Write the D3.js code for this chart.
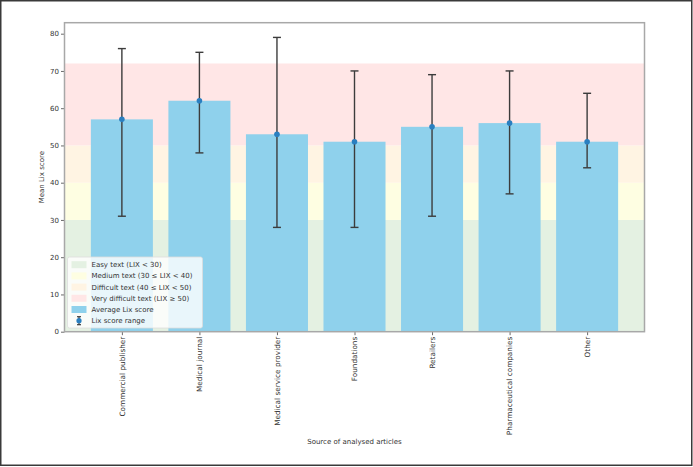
<!DOCTYPE html>
<html>
<head>
<meta charset="utf-8">
<script src="https://cdn.jsdelivr.net/npm/d3@7"></script>
<style>
  body { margin: 0; background: #fff; }
  svg { display: block; font-family: "DejaVu Sans", sans-serif; }
</style>
</head>
<body>
<script>
// data
var categories = ["Commercial publisher", "Medical journal", "Medical service provider",
    "Foundations", "Retailers", "Pharmaceutical companies", "Other"];
var meanLix = [57, 62, 53, 51, 55, 56, 51];
var minLix = [31, 48, 28, 28, 31, 37, 44];
var maxLix = [76, 75, 79, 70, 69, 70, 64];
var yTicks = [0, 10, 20, 30, 40, 50, 60, 70, 80];

// readability bands (from, to, label, colour)
var bandFrom = [0, 30, 40, 50];
var bandTo = [30, 40, 50, 72];
var bandLabels = ["Easy text (LIX < 30)", "Medium text (30 \u2264 LIX < 40)",
    "Difficult text (40 \u2264 LIX < 50)", "Very difficult text (LIX \u2265 50)"];
var bandColors = ["#e4f1e2", "#fefee2", "#fff4e3", "#ffe6e6"];

var width = 693, height = 467;
var plotLeft = 64.5, plotRight = 644.5, plotTop = 22.7, plotBottom = 331.7;

var svg = d3.select("body").append("svg")
    .attr("width", width)
    .attr("height", height);

svg.append("rect")
    .attr("x", 0.75).attr("y", 0.75)
    .attr("width", width - 2).attr("height", height - 2.5)
    .attr("fill", "#fff")
    .attr("stroke", "#3a3a3a")
    .attr("stroke-width", 1.5);

var x = d3.scaleLinear()
    .domain([-0.74, categories.length - 1 + 0.74])
    .range([plotLeft, plotRight]);

var y = d3.scaleLinear()
    .domain([0, 79 * 1.05])
    .range([plotBottom, plotTop]);

var g = svg.append("g");

// bands
g.selectAll("rect.band")
    .data(bandFrom)
    .enter()
    .append("rect")
    .attr("class", "band")
    .attr("x", plotLeft)
    .attr("width", plotRight - plotLeft)
    .attr("y", function (d, i) { return y(bandTo[i]); })
    .attr("height", function (d, i) { return y(d) - y(bandTo[i]); })
    .attr("fill", function (d, i) { return bandColors[i]; });

// bars
var barW = x(0.4) - x(-0.4);
g.selectAll("rect.bar")
    .data(meanLix)
    .enter()
    .append("rect")
    .attr("class", "bar")
    .attr("x", function (d, i) { return x(i) - barW / 2; })
    .attr("width", barW)
    .attr("y", function (d) { return y(d); })
    .attr("height", function (d) { return y(0) - y(d); })
    .attr("fill", "#8fd1ec");

// error bars
var err = g.append("g")
    .attr("stroke", "#3c3c3c")
    .attr("stroke-width", 1.4)
    .attr("fill", "none");

err.selectAll("line.whisker")
    .data(meanLix)
    .enter()
    .append("line")
    .attr("x1", function (d, i) { return x(i); })
    .attr("x2", function (d, i) { return x(i); })
    .attr("y1", function (d, i) { return y(minLix[i]); })
    .attr("y2", function (d, i) { return y(maxLix[i]); });

err.selectAll("line.capTop")
    .data(maxLix)
    .enter()
    .append("line")
    .attr("x1", function (d, i) { return x(i) - 4; })
    .attr("x2", function (d, i) { return x(i) + 4; })
    .attr("y1", function (d) { return y(d); })
    .attr("y2", function (d) { return y(d); });

err.selectAll("line.capBot")
    .data(minLix)
    .enter()
    .append("line")
    .attr("x1", function (d, i) { return x(i) - 4; })
    .attr("x2", function (d, i) { return x(i) + 4; })
    .attr("y1", function (d) { return y(d); })
    .attr("y2", function (d) { return y(d); });

g.selectAll("circle.mean")
    .data(meanLix)
    .enter()
    .append("circle")
    .attr("cx", function (d, i) { return x(i); })
    .attr("cy", function (d) { return y(d); })
    .attr("r", 2.8)
    .attr("fill", "#2a7fc0");

// axes
var yAxis = d3.axisLeft(y).tickValues(yTicks).tickSize(3.5).tickPadding(2);
var yg = svg.append("g")
    .attr("transform", "translate(" + plotLeft + ",0)")
    .call(yAxis);
yg.select(".domain").remove();
yg.selectAll("line").attr("stroke", "#444").attr("stroke-width", 0.8);
yg.selectAll("text").attr("font-size", "7px").attr("fill", "#333")
    .attr("font-family", "DejaVu Sans");

var xAxis = d3.axisBottom(x)
    .tickValues(d3.range(categories.length))
    .tickFormat(function (i) { return categories[i]; })
    .tickSize(3.5);
var xg = svg.append("g")
    .attr("transform", "translate(0," + plotBottom + ")")
    .call(xAxis);
xg.select(".domain").remove();
xg.selectAll("line").attr("stroke", "#444").attr("stroke-width", 0.8);
xg.selectAll("text")
    .attr("font-size", "7.3px")
    .attr("fill", "#333")
    .attr("font-family", "DejaVu Sans")
    .attr("text-anchor", "end")
    .attr("dy", "0.32em")
    .attr("transform", "translate(0,5) rotate(-90)")
    .attr("x", 0)
    .attr("y", 0);

// frame
svg.append("rect")
    .attr("x", plotLeft).attr("y", plotTop)
    .attr("width", plotRight - plotLeft).attr("height", plotBottom - plotTop)
    .attr("fill", "none")
    .attr("stroke", "#a8a8a8")
    .attr("stroke-width", 1.5);

svg.append("text")
    .attr("transform", "translate(44," + ((plotTop + plotBottom) / 2) + ") rotate(-90)")
    .attr("text-anchor", "middle")
    .attr("font-size", "7px")
    .attr("fill", "#333")
    .text("Mean Lix score");

svg.append("text")
    .attr("x", (plotLeft + plotRight) / 2)
    .attr("y", 444)
    .attr("text-anchor", "middle")
    .attr("font-size", "7px")
    .attr("fill", "#333")
    .text("Source of analysed articles");

// legend
var legendLabels = bandLabels.concat(["Average Lix score", "Lix score range"]);
var legendColors = bandColors.concat(["#8fd1ec", null]);

var lg = svg.append("g").attr("transform", "translate(67.5,257)");
lg.append("rect")
    .attr("width", 135).attr("height", 71)
    .attr("rx", 2)
    .attr("fill", "#fff").attr("fill-opacity", 0.8)
    .attr("stroke", "#ddd").attr("stroke-width", 0.8);

var item = lg.selectAll("g.item")
    .data(legendLabels)
    .enter()
    .append("g")
    .attr("class", "item")
    .attr("transform", function (d, i) { return "translate(0," + (7.7 + i * 11.2) + ")"; });

item.filter(function (d, i) { return legendColors[i]; })
    .append("rect")
    .attr("x", 4).attr("y", -3.5)
    .attr("width", 15).attr("height", 7)
    .attr("fill", function (d) { return legendColors[legendLabels.indexOf(d)]; });

var rangeItem = item.filter(function (d, i) { return !legendColors[i]; });
rangeItem.append("line")
    .attr("x1", 11.5).attr("x2", 11.5).attr("y1", -4).attr("y2", 4)
    .attr("stroke", "#3c3c3c").attr("stroke-width", 1.2);
rangeItem.append("line")
    .attr("x1", 9.5).attr("x2", 13.5).attr("y1", -4).attr("y2", -4)
    .attr("stroke", "#3c3c3c").attr("stroke-width", 1.2);
rangeItem.append("line")
    .attr("x1", 9.5).attr("x2", 13.5).attr("y1", 4).attr("y2", 4)
    .attr("stroke", "#3c3c3c").attr("stroke-width", 1.2);
rangeItem.append("circle")
    .attr("cx", 11.5).attr("cy", 0).attr("r", 2.6)
    .attr("fill", "#2a7fc0");

item.append("text")
    .attr("x", 24)
    .attr("dy", "0.35em")
    .attr("font-size", "7px")
    .attr("fill", "#333")
    .text(function (d) { return d; });
</script>
</body>
</html>
